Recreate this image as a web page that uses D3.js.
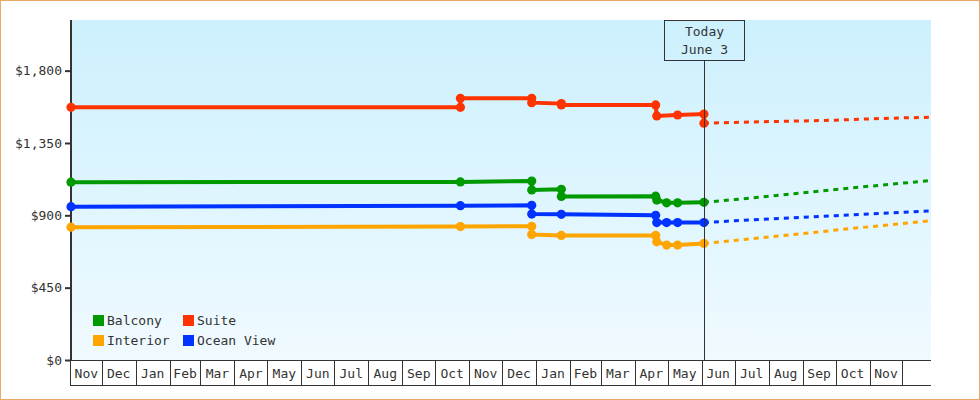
<!DOCTYPE html>
<html><head><meta charset="utf-8">
<script src="https://cdn.jsdelivr.net/npm/d3@7/dist/d3.min.js"></script>
<style>
html,body{margin:0;padding:0;background:#fff;}
svg{display:block;}
text{font-family:"DejaVu Sans Mono",monospace;font-size:13px;fill:#333;}
</style></head><body>
<svg id="chart" width="980" height="400"></svg>
<script>
// ---------- data ----------
const seriesNames = ["Balcony", "Suite", "Interior", "Ocean View"];
const domainStart = "2021-11-03";
const domainEnd = "2023-12-27";
const todayDate = "2023-06-03";
const todayLabel = ["Today", "June 3"];
const yTicks = [0, 450, 900, 1350, 1800];
const yMax = 2115;
const monthLabels = ["Nov","Dec","Jan","Feb","Mar","Apr","May","Jun","Jul","Aug","Sep","Oct",
                     "Nov","Dec","Jan","Feb","Mar","Apr","May","Jun","Jul","Aug","Sep","Oct","Nov",""];

const balconyHist = [["2021-11-03",1106],["2022-10-24",1108],["2022-12-28",1113],["2022-12-28",1058],
  ["2023-01-24",1062],["2023-01-24",1017],["2023-04-20",1019],["2023-04-21",995],["2023-04-30",978],
  ["2023-05-10",978],["2023-06-03",981]];
const suiteHist = [["2021-11-03",1572],["2022-10-24",1572],["2022-10-24",1628],["2022-12-28",1628],
  ["2022-12-28",1601],["2023-01-24",1595],["2023-01-24",1587],["2023-04-20",1587],["2023-04-21",1518],
  ["2023-05-10",1524],["2023-06-03",1530],["2023-06-03",1473]];
const interiorHist = [["2021-11-03",826],["2022-10-24",830],["2022-12-28",832],["2022-12-28",780],
  ["2023-01-24",775],["2023-04-20",775],["2023-04-21",735],["2023-04-30",715],["2023-05-10",715],
  ["2023-06-03",725]];
const oceanHist = [["2021-11-03",954],["2022-10-24",960],["2022-12-28",962],["2022-12-28",908],
  ["2023-01-24",906],["2023-04-20",900],["2023-04-21",855],["2023-04-30",855],["2023-05-10",855],
  ["2023-06-03",855]];

const projDates = ["2023-06-03","2023-07-01","2023-08-01","2023-09-01","2023-10-01","2023-11-01","2023-12-01","2023-12-27"];
const balconyProj = [981, 998, 1019, 1040, 1060, 1081, 1100, 1117];
const suiteProj = [1473, 1478, 1483, 1487, 1492, 1500, 1506, 1510];
const interiorProj = [725, 744, 765, 786, 808, 829, 849, 867];
const oceanProj = [855, 866, 877, 888, 898, 908, 918, 927];

// ---------- styles ----------
const colors = {"Balcony":"#009900","Suite":"#ff3300","Interior":"#ffa500","Ocean View":"#0033ff"};

(function(){
const parse = d3.utcParse("%Y-%m-%d");
const hist = {"Balcony":balconyHist,"Suite":suiteHist,"Interior":interiorHist,"Ocean View":oceanHist};
const proj = {"Balcony":balconyProj,"Suite":suiteProj,"Interior":interiorProj,"Ocean View":oceanProj};

const svg = d3.select("#chart");
const W = 980, H = 400;
const pL = 71, pR = 931, pT = 20, pB = 360;

const x = d3.scaleUtc().domain([parse(domainStart), parse(domainEnd)]).range([pL, pR]);
const y = d3.scaleLinear().domain([0, yMax]).range([pB, pT]);

// border
svg.append("rect").attr("x",0.5).attr("y",0.5).attr("width",W-1).attr("height",H-1)
  .attr("fill","#fff").attr("stroke","#e8a868");

// background gradient
const defs = svg.append("defs");
const grad = defs.append("linearGradient").attr("id","bg").attr("x1",0).attr("y1",0).attr("x2",0).attr("y2",1);
grad.append("stop").attr("offset","0%").attr("stop-color","#ccf0fd");
grad.append("stop").attr("offset","100%").attr("stop-color","#f0faff");
svg.append("rect").attr("x",pL).attr("y",pT).attr("width",pR-pL).attr("height",pB-pT)
  .attr("fill","url(#bg)");

// y axis
const yAxis = d3.axisLeft(y).tickValues(yTicks).tickFormat(d3.format("$,")).tickSize(6).tickPadding(3);
const gy = svg.append("g").attr("transform",`translate(${pL},0)`).call(yAxis);
gy.select(".domain").remove();
gy.selectAll(".tick line").attr("stroke","#333").attr("stroke-width",2);
gy.selectAll(".tick text").attr("fill","#333").style("font-family","DejaVu Sans Mono").style("font-size","13px");
svg.append("line").attr("x1",pL).attr("x2",pL).attr("y1",pT).attr("y2",pB+1)
  .attr("stroke","#333").attr("stroke-width",2);

// x axis month boxes
const months = d3.utcMonth.range(x.domain()[0], x.domain()[1]);
const edges = [x.domain()[0], ...months, x.domain()[1]];
const gx = svg.append("g");
gx.append("line").attr("x1",pL-1).attr("x2",pR).attr("y1",pB+0.5).attr("y2",pB+0.5).attr("stroke","#333");
gx.append("line").attr("x1",pL-1).attr("x2",pR).attr("y1",385.5).attr("y2",385.5).attr("stroke","#333");
const dividers = [pL-0.5, ...months.map(m => Math.round(x(m))+0.5)];
gx.selectAll("line.div").data(dividers).join("line").attr("class","div")
  .attr("x1",d=>d).attr("x2",d=>d).attr("y1",pB).attr("y2",385.5).attr("stroke","#333");
gx.selectAll("text.mon").data(d3.range(edges.length-1)).join("text").attr("class","mon")
  .attr("x",i => (x(edges[i]) + x(edges[i+1]))/2)
  .attr("y",378).attr("text-anchor","middle").attr("fill","#111")
  .text(i => monthLabels[i] || "");

// lines
const line = d3.line().x(d => x(parse(d[0]))).y(d => y(d[1]));
const order = ["Suite","Balcony","Ocean View","Interior"];
order.forEach(name => {
  const pd = projDates.map((d,i) => [d, proj[name][i]]);
  svg.append("path").datum(pd).attr("d", line).attr("fill","none")
    .attr("stroke", colors[name]).attr("stroke-width",3).attr("stroke-dasharray","5,5");
});
order.forEach(name => {
  svg.append("path").datum(hist[name]).attr("d", line).attr("fill","none")
    .attr("stroke", colors[name]).attr("stroke-width",4).attr("stroke-linejoin","miter");
  svg.selectAll(null).data(hist[name]).join("circle")
    .attr("cx", d => x(parse(d[0]))).attr("cy", d => y(d[1])).attr("r",4.6)
    .attr("fill", colors[name]);
});

// today marker
const tx = Math.round(x(parse(todayDate))) + 0.5;
svg.append("line").attr("x1",tx).attr("x2",tx).attr("y1",60).attr("y2",pB)
  .attr("stroke","#333").attr("stroke-width",1);
svg.append("rect").attr("x",tx-40).attr("y",pT+0.5).attr("width",80).attr("height",40)
  .attr("fill","none").attr("stroke","#333");
svg.append("text").attr("x",tx).attr("y",36).attr("text-anchor","middle").text(todayLabel[0]);
svg.append("text").attr("x",tx).attr("y",54).attr("text-anchor","middle").text(todayLabel[1]);

// legend
const legendPos = [[93,315],[183,315],[93,335],[183,335]];
seriesNames.forEach((name,i) => {
  const [lx, ly] = legendPos[i];
  svg.append("rect").attr("x",lx).attr("y",ly).attr("width",11).attr("height",11).attr("fill",colors[name]);
  svg.append("text").attr("x",lx+14).attr("y",ly+10).text(name);
});
})();
</script>
</body></html>
